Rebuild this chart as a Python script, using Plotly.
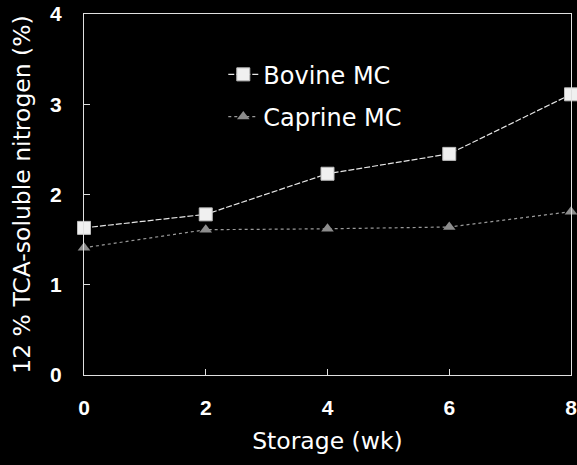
import plotly.graph_objects as go

weeks = [0, 2, 4, 6, 8]
bovine = [1.63, 1.78, 2.23, 2.45, 3.11]
caprine = [1.41, 1.61, 1.62, 1.64, 1.81]
x_ticks = [0, 2, 4, 6, 8]
y_ticks = [0, 1, 2, 3, 4]

fig = go.Figure()
fig.add_trace(go.Scatter(
    x=weeks, y=bovine, name="Bovine MC", mode="lines+markers",
    line=dict(color="#e6e6e6", width=1.2, dash="6px,2px"),
    marker=dict(symbol="square", size=13, color="#f0f0f0",
                line=dict(color="#bdbdbd", width=1)),
    cliponaxis=False, legendgroup="a",
))
fig.add_trace(go.Scatter(
    x=weeks, y=caprine, name="Caprine MC", mode="lines+markers",
    line=dict(color="#9a9a9a", width=1.2, dash="dot"),
    marker=dict(symbol="triangle-up", size=11, color="#8c8c8c"),
    cliponaxis=False, legendgroup="b",
))

axis_common = dict(
    showgrid=False, zeroline=False, showline=True, linecolor="#e0e0e0",
    linewidth=1, mirror=True, ticks="inside", ticklen=6, tickcolor="#e0e0e0",
    automargin=False, ticklabeloverflow="allow",
    tickfont=dict(family="Arial", size=21, color="white", weight="bold"),
)

title_font = dict(family="DejaVu Sans", size=23.5, color="white")

fig.update_layout(
    width=577, height=465,
    paper_bgcolor="black", plot_bgcolor="black",
    margin=dict(l=84, r=6, t=14, b=90),
    font=dict(family="DejaVu Sans", color="white"),
    xaxis=dict(range=[0, 8], tickvals=x_ticks, ticklabelstandoff=14,
               title=dict(text="Storage (wk)", font=title_font, standoff=14),
               **axis_common),
    yaxis=dict(range=[0, 4], tickvals=y_ticks, ticklabelstandoff=17,
               title=dict(text="12 % TCA-soluble nitrogen (%)", font=title_font, standoff=12),
               **axis_common),
    showlegend=True,
    legend=dict(x=0.286, y=0.894, xanchor="left", yanchor="top",
                bgcolor="rgba(0,0,0,0)", font=dict(size=24, color="white"),
                traceorder="grouped", tracegroupgap=8),
)

fig.write_html(
    "out.html",
    config={"displayModeBar": False},
    post_script="document.body.style.margin='0';document.body.style.background='black';",
)
